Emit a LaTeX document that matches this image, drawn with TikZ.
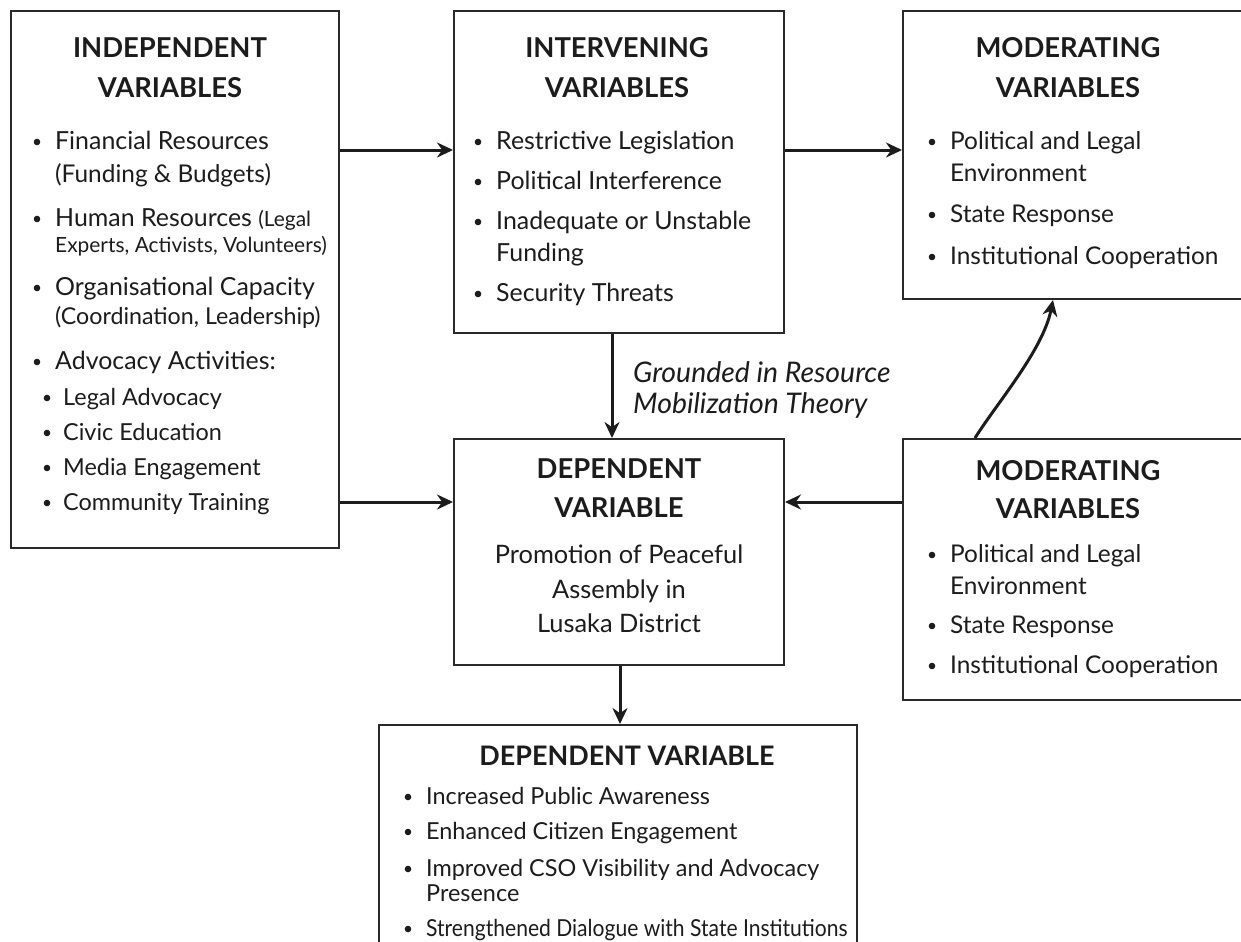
\documentclass[tikz,border=0pt]{standalone}
\usepackage{fontspec}
\setmainfont{Lato}
\usetikzlibrary{arrows.meta}
\definecolor{ink}{HTML}{1C1C1C}
\definecolor{edge}{HTML}{2A2A2A}
\tikzset{
  box/.style={draw=edge, line width=2bp, fill=white, inner sep=0pt, anchor=north west},
  ttl/.style={font=\fontsize{27.5}{32}\selectfont\bfseries, text=ink, inner sep=0pt, anchor=base},
  itm/.style={font=\fontsize{25}{30}\selectfont, text=ink, inner sep=0pt, anchor=base west},
  ctr/.style={font=\fontsize{25.5}{30}\selectfont, text=ink, inner sep=0pt, anchor=base},
  arr/.style={draw=ink, line width=3bp, -{Stealth[length=16bp,width=15bp]}},
  modf/.style={font=\fontsize{24.5}{29}\selectfont},
  botf/.style={font=\fontsize{23.5}{28}\selectfont},
}
% bullet item: x, visual y, name, text, options
\newcommand{\bul}[5]{\fill[ink] (#1,#2+2) circle (3.3);
  \node[itm,#5] (#3) at (#1+18,#2+9) {#4};}
\begin{document}
\begin{tikzpicture}[x=1bp,y=-1bp]
\useasboundingbox (0,0) rectangle (1241,942);
\fill[white] (0,0) rectangle (1241,942);

% boxes
\node[box, minimum width=328bp, minimum height=537bp] (indep) at (10,10) {};
\node[box, minimum width=330bp, minimum height=322bp] (interv) at (453,10) {};
\node[box, minimum width=342bp, minimum height=288bp] (modtop) at (902,10) {};
\node[box, minimum width=330bp, minimum height=226bp] (depmid) at (453,438) {};
\node[box, minimum width=342bp, minimum height=261bp] (modbot) at (902,438) {};
\node[box, minimum width=478bp, minimum height=240bp] (depbot) at (378,724) {};

% independent variables
\node[ttl] (t1a) at (170,57) {INDEPENDENT};
\node[ttl] (t1b) at (170,97) {VARIABLES};
\bul{37}{140}{i1}{Financial Resources}{}
\node[itm, font=\fontsize{24.5}{28}\selectfont] (i1b) at (55,182) {(Funding \& Budgets)};
\bul{37}{217}{i2}{Human Resources {\fontsize{21}{24}\selectfont(Legal}}{}
\node[itm, font=\fontsize{21}{24}\selectfont] (i2b) at (55,252) {Experts, Activists, Volunteers)};
\bul{37}{286}{i3}{Organisational Capacity}{}
\node[itm, font=\fontsize{23.3}{28}\selectfont] (i3b) at (55,324) {(Coordination, Leadership)};
\bul{37}{360}{i4}{Advocacy Activities:}{}
\bul{47}{396}{i5}{Legal Advocacy}{font=\fontsize{23.5}{28}\selectfont, xshift=-2bp}
\bul{47}{431}{i6}{Civic Education}{font=\fontsize{23.5}{28}\selectfont, xshift=-2bp}
\bul{47}{466}{i7}{Media Engagement}{font=\fontsize{23.5}{28}\selectfont, xshift=-2bp}
\bul{47}{501}{i8}{Community Training}{font=\fontsize{23.5}{28}\selectfont, xshift=-2bp}

% intervening variables
\node[ttl] (t2a) at (617,57) {INTERVENING};
\node[ttl] (t2b) at (617,97) {VARIABLES};
\bul{478}{140}{v1}{Restrictive Legislation}{}
\bul{478}{180}{v2}{Political Interference}{}
\bul{478}{220}{v3}{Inadequate or Unstable}{}
\node[itm] (v3b) at (496,261) {Funding};
\bul{478}{292}{v4}{Security Threats}{}

% moderating variables (top)
\node[ttl] (t3a) at (1068,57) {MODERATING};
\node[ttl] (t3b) at (1068,97) {VARIABLES};
\bul{932}{140}{m1}{Political and Legal}{modf}
\node[itm, modf] (m1b) at (950,181) {Environment};
\bul{932}{213}{m2}{State Response}{modf}
\bul{932}{255}{m3}{Institutional Cooperation}{modf}

% dependent variable (middle)
\node[ttl] (t4a) at (619,478) {DEPENDENT};
\node[ttl] (t4b) at (619,517) {VARIABLE};
\node[ctr] (d1) at (619,563) {Promotion of Peaceful};
\node[ctr] (d2) at (619,598) {Assembly in};
\node[ctr] (d3) at (619,632) {Lusaka District};

% moderating variables (bottom)
\node[ttl] (t5a) at (1068,480) {MODERATING};
\node[ttl] (t5b) at (1068,518) {VARIABLES};
\bul{932}{553}{n1}{Political and Legal}{modf}
\node[itm, modf] (n1b) at (950,594) {Environment};
\bul{932}{624}{n2}{State Response}{modf}
\bul{932}{664}{n3}{Institutional Cooperation}{modf}

% dependent variable (bottom)
\node[ttl, font=\fontsize{27}{32}\selectfont\bfseries] (t6) at (627,765) {DEPENDENT VARIABLE};
\bul{408}{795}{b1}{Increased Public Awareness}{botf}
\bul{408}{830}{b2}{Enhanced Citizen Engagement}{botf}
\bul{408}{867}{b3}{Improved CSO Visibility and Advocacy}{botf}
\node[itm, botf] (b3b) at (426,901) {Presence};
\bul{408}{927}{b4}{\scalebox{0.9}[1]{Strengthened Dialogue with State Institutions}}{botf}

% theory label
\node[itm, font=\fontsize{28.5}{33}\selectfont\itshape] (g1) at (633,382) {Grounded in Resource};
\node[itm, font=\fontsize{28.5}{33}\selectfont\itshape] (g2) at (633,413) {Mobilization Theory};

% connectors
\draw[arr] (indep.east |- 0,150) -- (interv.west |- 0,150);
\draw[arr] (interv.east |- 0,150) -- (modtop.west |- 0,150);
\draw[arr] (interv.south -| 612,0) -- (depmid.north -| 612,0);
\draw[arr] (indep.east |- 0,502) -- (depmid.west |- 0,502);
\draw[arr] (modbot.west |- 0,502) -- (depmid.east |- 0,502);
\draw[arr] (depmid.south -| 620,0) -- (depbot.north -| 620,0);
\draw[arr] (modbot.north -| 975,0) .. controls +(22,-35) and +(-10,50) .. (modtop.south -| 1053,0);
\end{tikzpicture}
\end{document}
